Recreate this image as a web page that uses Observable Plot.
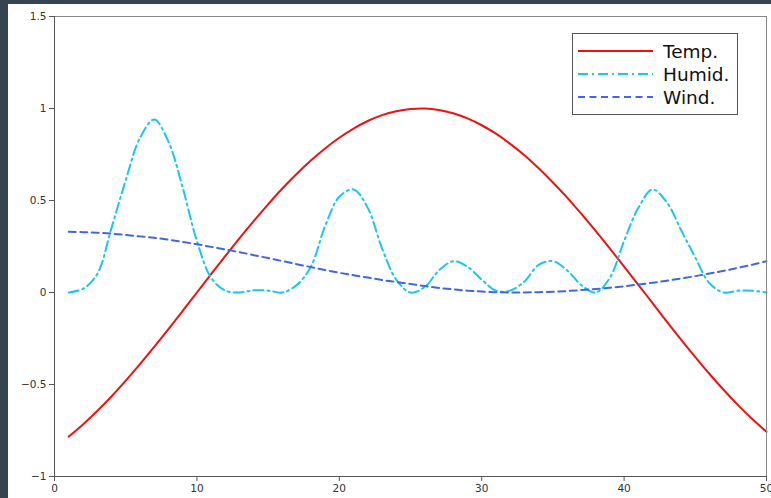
<!DOCTYPE html>
<html>
<head>
<meta charset="utf-8">
<script src="https://cdn.jsdelivr.net/npm/d3@7"></script>
<script src="https://cdn.jsdelivr.net/npm/@observablehq/plot@0.6"></script>
<style>
  html, body { margin: 0; padding: 0; background: #35444f; width: 771px; height: 498px; overflow: hidden; }
  #fig { position: absolute; left: 8px; top: 4px; width: 763px; height: 494px; background: #fff; }
  #legend { position: absolute; left: 564px; top: 29px; }
</style>
</head>
<body>
<div id="fig"></div>
<script>
const xs = [1,2,3,4,5,6,7,8,9,10,11,12,13,14,15,16,17,18,19,20,21,22,23,24,25,26,27,28,29,30,31,32,33,34,35,36,37,38,39,40,41,42,43,44,45,46,47,48,49,50];
const temp = [-0.783,-0.717,-0.644,-0.565,-0.479,-0.389,-0.296,-0.199,-0.100,0.000,0.100,0.199,0.296,0.389,0.479,0.565,0.644,0.717,0.783,0.841,0.891,0.932,0.964,0.985,0.997,1.000,0.992,0.974,0.946,0.909,0.863,0.808,0.746,0.675,0.598,0.516,0.427,0.335,0.239,0.141,0.042,-0.058,-0.158,-0.256,-0.351,-0.443,-0.530,-0.612,-0.688,-0.757];
const humid = [0.00,0.02,0.10,0.35,0.61,0.84,0.94,0.82,0.57,0.28,0.08,0.01,0.00,0.012,0.01,0.00,0.04,0.14,0.36,0.52,0.56,0.46,0.24,0.07,0.00,0.03,0.12,0.17,0.14,0.07,0.01,0.01,0.06,0.15,0.17,0.12,0.04,0.00,0.08,0.28,0.46,0.56,0.49,0.34,0.19,0.05,0.00,0.01,0.01,0.00];
const wind = [0.330,0.328,0.325,0.320,0.313,0.305,0.297,0.287,0.275,0.262,0.248,0.234,0.219,0.203,0.187,0.171,0.154,0.138,0.122,0.107,0.094,0.081,0.068,0.057,0.046,0.035,0.025,0.017,0.010,0.005,0.002,0.000,0.000,0.002,0.004,0.008,0.013,0.019,0.026,0.034,0.043,0.053,0.064,0.076,0.089,0.103,0.118,0.134,0.151,0.170];
const seriesNames = ["Temp.", "Humid.", "Wind."];
const seriesColors = ["#ee1111", "#18c6f0", "#3f66e6"];
const seriesDash = [null, "10,4,2,4", "7,4.5"];
const xTicks = [0,10,20,30,40,50];
const yTicks = [-1,-0.5,0,0.5,1,1.5];

const allSeries = [temp, humid, wind];
const rows = [];
allSeries.forEach((vals, s) => vals.forEach((v, i) => rows.push({x: xs[i], y: v, s: seriesNames[s]})));

const fmt = d => String(d).replace("-", "\u2212");

const lineMarks = seriesNames.map((name, s) =>
  Plot.line(rows.filter(r => r.s === name), {
    x: "x", y: "y", stroke: seriesColors[s], strokeWidth: 2,
    strokeDasharray: seriesDash[s] || undefined, curve: "catmull-rom"
  })
);

const chart = Plot.plot({
  width: 763, height: 494,
  marginLeft: 46, marginTop: 12, marginRight: 5, marginBottom: 22,
  style: { fontFamily: "DejaVu Sans", fontSize: "10.5px", color: "#333", background: "#fff" },
  x: { domain: [0, 50] },
  y: { domain: [-1, 1.5] },
  marks: [
    ...lineMarks,
    Plot.frame({ stroke: "#888", strokeWidth: 1 }),
    Plot.ruleX([0], { stroke: "#555" }),
    Plot.ruleY([-1], { stroke: "#555" }),
    Plot.axisX({ ticks: xTicks, tickFormat: fmt, tickSize: 5, tickPadding: 3, label: null, stroke: "#555", fontSize: 10.5 }),
    Plot.axisY({ ticks: yTicks, tickFormat: fmt, tickSize: 5, tickPadding: 3, label: null, stroke: "#555", fontSize: 10.5 })
  ]
});
document.getElementById("fig").appendChild(chart);

// legend overlay
const ns = "http://www.w3.org/2000/svg";
const lg = document.createElementNS(ns, "svg");
lg.setAttribute("id", "legend");
lg.setAttribute("width", 167);
lg.setAttribute("height", 83);
const rect = document.createElementNS(ns, "rect");
rect.setAttribute("x", 0.5); rect.setAttribute("y", 0.5);
rect.setAttribute("width", 165); rect.setAttribute("height", 81);
rect.setAttribute("fill", "#fff"); rect.setAttribute("stroke", "#555");
lg.appendChild(rect);
const rowY = [18, 41, 64];
seriesNames.forEach((name, s) => {
  const l = document.createElementNS(ns, "line");
  l.setAttribute("x1", 6); l.setAttribute("x2", 81);
  l.setAttribute("y1", rowY[s]); l.setAttribute("y2", rowY[s]);
  l.setAttribute("stroke", seriesColors[s]); l.setAttribute("stroke-width", 2);
  if (seriesDash[s]) l.setAttribute("stroke-dasharray", seriesDash[s]);
  lg.appendChild(l);
  const t = document.createElementNS(ns, "text");
  t.setAttribute("x", 91); t.setAttribute("y", rowY[s]);
  t.setAttribute("dy", "0.36em");
  t.setAttribute("font-family", "DejaVu Sans");
  t.setAttribute("font-size", "18.5px");
  t.setAttribute("fill", "#111");
  t.textContent = name;
  lg.appendChild(t);
});
document.getElementById("fig").appendChild(lg);
</script>
</body>
</html>
